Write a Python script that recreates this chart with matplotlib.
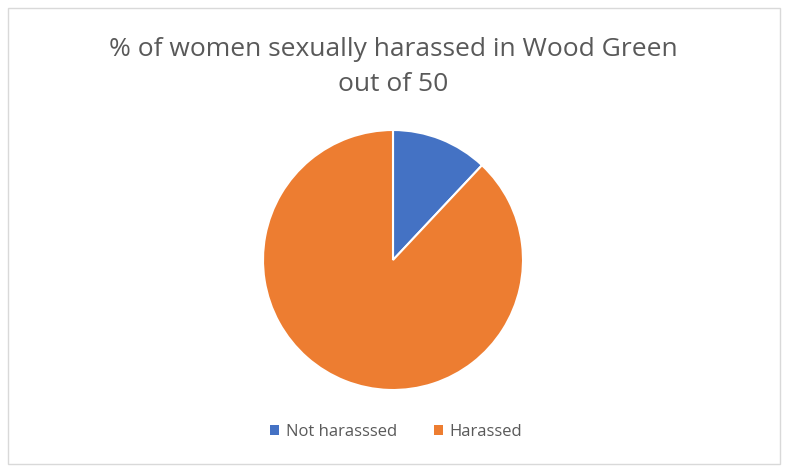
import matplotlib
matplotlib.use("Agg")
import matplotlib.pyplot as plt
from matplotlib.patches import Rectangle

labels = ["Not harasssed", "Harassed"]
values = [6, 44]
colors = ["#4472C4", "#ED7D31"]
title = "% of women sexually harassed in Wood Green\nout of 50"

plt.rcParams['font.family'] = ['Open Sans', 'DejaVu Sans']

fig = plt.figure(figsize=(7.92, 4.74), dpi=100)
fig.patch.set_facecolor("white")
fig.add_artist(Rectangle((8/792, 1-464/474), (780-8)/792, (464-8)/474,
                         transform=fig.transFigure, fill=False,
                         edgecolor="#D9D9D9", linewidth=1))

r_px = 130
cx, cy = 393, 260
ax = fig.add_axes([(cx - r_px)/792, 1-(cy + r_px)/474, 2*r_px/792, 2*r_px/474])
wedges, _ = ax.pie(values, colors=colors, startangle=90, counterclock=False,
                   radius=1.0,
                   wedgeprops=dict(edgecolor="white", linewidth=1.5))
ax.set_aspect("equal")
ax.set_xlim(-1, 1)
ax.set_ylim(-1, 1)

fig.text(cx/792, 1-67/474, title, ha="center", va="center", fontsize=19,
         color="#595959", linespacing=1.55)

leg = fig.legend(wedges, labels, loc="center", bbox_to_anchor=(396/792, 1-432/474),
                 ncol=2, frameon=False, fontsize=12, handlelength=0.55,
                 handleheight=0.55, columnspacing=2.2, handletextpad=0.4,
                 labelcolor="#595959")
for h in leg.legend_handles:
    h.set_edgecolor("none")

fig.savefig("out.png", dpi=100, facecolor="white")
